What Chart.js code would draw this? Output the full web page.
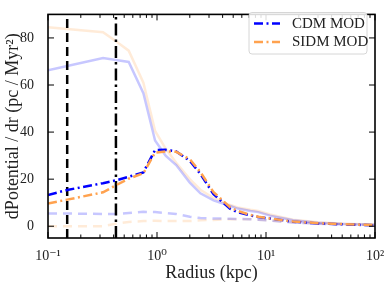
<!DOCTYPE html>
<html>
<head>
<meta charset="utf-8">
<script src="https://cdn.jsdelivr.net/npm/chart.js@4/dist/chart.umd.min.js"></script>
<style>
  body { margin: 0; background: #fff; }
</style>
</head>
<body>
<canvas id="grafico" width="390" height="284"></canvas>
<script>
// raios (kpc) e curvas
const raios       = [0.1, 0.15, 0.32, 0.42, 0.55, 0.75, 0.96, 1.2, 1.5, 2.0, 2.5, 3.3, 4.7, 5.5, 7.2, 8.5, 10.9, 17.7, 30, 50, 100];
const cdm_mod     = [13.3, 15.4, 18.3, 19.5, 21.0, 22.9, 32.4, 32.5, 31.8, 27.8, 22.2, 13.6, 7.4, 6.0, 4.6, 3.9, 3.3, 1.9, 1.2, 0.8, 0.4];
const sidm_mod    = [9.7, 11.3, 14.4, 17.4, 20.2, 22.5, 31.3, 31.8, 31.6, 28.5, 23.0, 14.5, 8.0, 6.5, 4.8, 4.0, 3.3, 2.0, 1.3, 0.9, 0.5];
const cdm_solido  = [66.3, 68.1, 71.5, 70.6, 69.8, 56.5, 36.4, 30.0, 26.0, 18.5, 14.0, 11.0, 8.6, 7.5, 6.5, 6.0, 4.5, 2.5, 1.5, 1.0, 0.6];
const sidm_solido = [84.5, 83.8, 82.4, 78.6, 74.6, 61.0, 40.5, 33.0, 27.0, 20.0, 15.5, 12.0, 9.0, 8.0, 7.0, 6.5, 5.0, 2.8, 1.7, 1.1, 0.7];
const cdm_trac    = [5.4, 5.4, 5.2, 5.2, 5.6, 6.1, 6.0, 5.6, 5.2, 4.0, 3.5, 3.3, 3.2, 3.1, 3.0, 2.8, 2.4, 1.6, 1.1, 0.8, 0.5];
const sidm_trac   = [0.0, 0.0, 0.0, 1.1, 1.8, 2.2, 2.3, 2.2, 2.2, 2.2, 2.5, 2.7, 3.0, 3.0, 3.0, 2.8, 2.4, 1.7, 1.2, 0.9, 0.5];
const linhas_verticais = [0.15, 0.42];
const faixa_x = [0.1, 100];
const faixa_y = [-5, 90];
const ticks_y = [0, 20, 40, 60, 80];
const ticks_x = [0.1, 1, 10, 100];
const rotulos_x = ['10\u207B\u00B9', '10\u2070', '10\u00B9', '10\u00B2'];

const AZUL = '#0000ff';
const LARANJA = '#ffa24f';
const FONTE = "'Liberation Serif', 'DejaVu Serif', serif";

const pontos = (ys) => raios.map((r, i) => ({x: r, y: ys[i]}));
const vertical = (xv) => [{x: xv, y: faixa_y[0]}, {x: xv, y: faixa_y[1]}];

const base = {pointRadius: 0, tension: 0, borderCapStyle: 'butt', fill: false};

const datasets = [
    {...base, label: 'CDM MOD', data: pontos(cdm_mod), borderColor: AZUL, borderWidth: 2.5, borderDash: [9, 3.5, 2, 3.5], order: 1, naLegenda: true},
    {...base, label: 'SIDM MOD', data: pontos(sidm_mod), borderColor: LARANJA, borderWidth: 2.5, borderDash: [9, 3.5, 2, 3.5], order: 0, naLegenda: true},
    {...base, label: 'v1', data: vertical(linhas_verticais[0]), borderColor: '#000', borderWidth: 2.5, borderDash: [9, 5], order: 2},
    {...base, label: 'v2', data: vertical(linhas_verticais[1]), borderColor: '#000', borderWidth: 2.5, borderDash: [12, 4, 2.5, 4], order: 2},
    {...base, label: 'cdm', data: pontos(cdm_solido), borderColor: 'rgba(0,0,255,0.22)', borderWidth: 2.5, order: 3},
    {...base, label: 'sidm', data: pontos(sidm_solido), borderColor: 'rgba(255,162,79,0.22)', borderWidth: 2.5, order: 3},
    {...base, label: 'cdm t', data: pontos(cdm_trac), borderColor: 'rgba(0,0,255,0.22)', borderWidth: 2.5, borderDash: [9, 6], order: 3},
    {...base, label: 'sidm t', data: pontos(sidm_trac), borderColor: 'rgba(255,162,79,0.22)', borderWidth: 2.5, borderDash: [9, 6], order: 3},
];

// marcas para dentro, estilo matplotlib
const marcasInternas = {
    id: 'marcasInternas',
    afterDraw(chart) {
        const {ctx, chartArea: a, scales: {x, y}} = chart;
        ctx.save();
        ctx.strokeStyle = '#000';
        ctx.lineWidth = 1;
        const traco = (x0, y0, x1, y1) => { ctx.beginPath(); ctx.moveTo(x0, y0); ctx.lineTo(x1, y1); ctx.stroke(); };
        for (let e = -1; e <= 2; e++) {
            for (let m = 1; m <= 9; m++) {
                const v = m * Math.pow(10, e);
                if (v > faixa_x[1] * 1.0001) break;
                const px = x.getPixelForValue(v);
                const len = m === 1 ? 6 : 3.5;
                traco(px, a.bottom, px, a.bottom - len);
                traco(px, a.top, px, a.top + len);
            }
        }
        ticks_y.forEach(v => {
            const py = y.getPixelForValue(v);
            traco(a.left, py, a.left + 6, py);
            traco(a.right, py, a.right - 6, py);
        });
        ctx.lineWidth = 1.6;
        ctx.strokeRect(a.left, a.top, a.width, a.height);
        ctx.restore();
    }
};

const legendaInterna = {
    id: 'legendaInterna',
    afterDraw(chart) {
        const ctx = chart.ctx;
        const itens = chart.data.datasets.filter(d => d.naLegenda);
        const x0 = 249, y0 = 12.5, w = 118, h = 41.5;
        ctx.save();
        ctx.fillStyle = 'rgba(255,255,255,0.85)';
        ctx.strokeStyle = '#d6d6d6';
        ctx.lineWidth = 1;
        ctx.beginPath();
        ctx.roundRect(x0, y0, w, h, 3);
        ctx.fill();
        ctx.stroke();
        itens.forEach((d, i) => {
            const cy = 23.5 + i * 18.5;
            ctx.strokeStyle = d.borderColor;
            ctx.lineWidth = d.borderWidth;
            ctx.setLineDash(d.borderDash);
            ctx.beginPath();
            ctx.moveTo(254, cy);
            ctx.lineTo(280, cy);
            ctx.stroke();
            ctx.setLineDash([]);
            ctx.fillStyle = '#222';
            ctx.font = '15px ' + FONTE;
            ctx.textBaseline = 'middle';
            ctx.fillText(d.label, 292, cy + 0.5);
        });
        ctx.restore();
    }
};

const grafico = new Chart(document.getElementById('grafico'), {
    type: 'line',
    data: {datasets: datasets},
    plugins: [marcasInternas, legendaInterna],
    options: {
        responsive: false,
        animation: false,
        parsing: false,
        layout: {padding: {top: 5, right: 15, left: 0, bottom: 0}},
        plugins: {legend: {display: false}, tooltip: {enabled: false}},
        scales: {
            x: {
                type: 'logarithmic',
                min: faixa_x[0],
                max: faixa_x[1],
                afterBuildTicks: (s) => { s.ticks = ticks_x.map(v => ({value: v})); },
                afterFit: (s) => { s.height = 46; },
                grid: {display: false},
                border: {display: false},
                ticks: {
                    autoSkip: false, maxRotation: 0, padding: 2,
                    color: '#222', font: {family: FONTE, size: 14},
                    callback: (v) => rotulos_x[ticks_x.findIndex(t => Math.abs(t - v) < 1e-9)]
                },
                title: {display: true, text: 'Radius (kpc)', color: '#222', font: {family: FONTE, size: 18}, padding: {top: 0, bottom: 0}}
            },
            y: {
                min: faixa_y[0],
                max: faixa_y[1],
                afterBuildTicks: (s) => { s.ticks = ticks_y.map(v => ({value: v})); },
                afterFit: (s) => { s.width = 48; },
                grid: {display: false},
                border: {display: false},
                ticks: {padding: 6, color: '#222', font: {family: FONTE, size: 14}},
                title: {display: true, text: 'dPotential / dr (pc / Myr\u00B2)', color: '#222', font: {family: FONTE, size: 18}, padding: {top: 2, bottom: 0}}
            }
        }
    }
});
</script>
</body>
</html>
